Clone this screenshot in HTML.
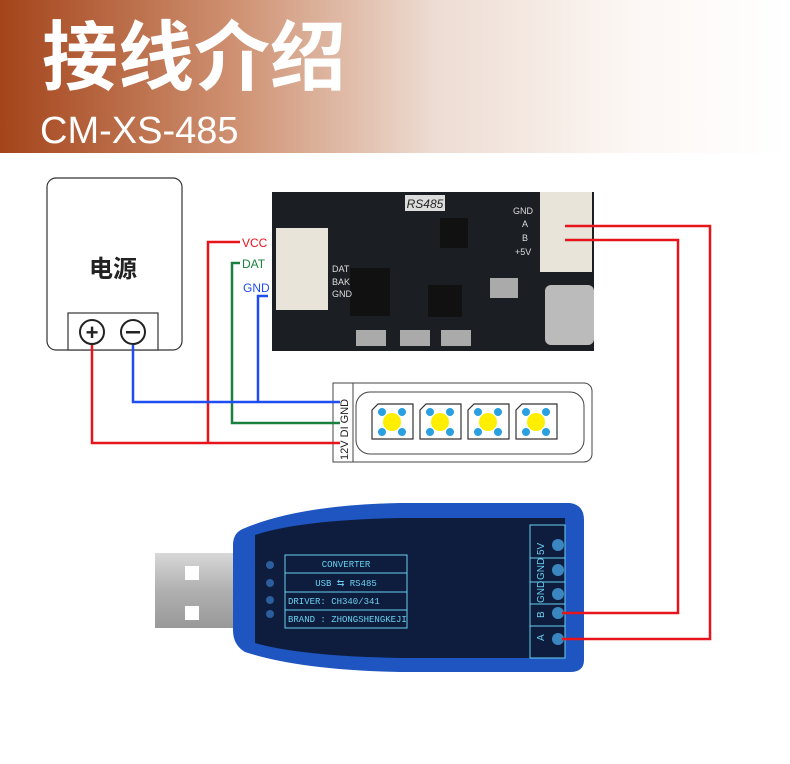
<!DOCTYPE html>
<html><head><meta charset="utf-8"><style>
body{margin:0;width:790px;height:759px;background:#fff;overflow:hidden}
</style></head><body>
<svg width="790" height="759" viewBox="0 0 790 759" xmlns="http://www.w3.org/2000/svg" font-family="Liberation Sans, Noto Sans CJK SC, sans-serif">
<defs>
<linearGradient id="hg" x1="0" x2="1">
<stop offset="0" stop-color="#a4441a"/><stop offset="0.3" stop-color="#cf9273"/><stop offset="0.55" stop-color="#eddcd2"/><stop offset="0.8" stop-color="#fcf7f4"/><stop offset="1" stop-color="#fff"/>
</linearGradient>
<linearGradient id="usbg" x1="0" y1="0" x2="0" y2="1">
<stop offset="0" stop-color="#d8d8d8"/><stop offset="0.5" stop-color="#b0b0b0"/><stop offset="1" stop-color="#999"/>
</linearGradient>
</defs>
<rect x="0" y="0" width="790" height="153" fill="url(#hg)"/>
<text x="42" y="84" font-size="76" font-weight="bold" fill="#fff" font-family="Noto Sans CJK SC, sans-serif">接线介绍</text>
<text x="40" y="143" font-size="38" fill="#fff">CM-XS-485</text>

<!-- power box -->
<rect x="47" y="178" width="135" height="172" rx="9" fill="#fff" stroke="#333" stroke-width="1.2"/>
<text x="113" y="277" font-size="24" font-weight="bold" text-anchor="middle" fill="#222" font-family="Noto Sans CJK SC, sans-serif">电源</text>
<rect x="68" y="313" width="90" height="37" fill="#fff" stroke="#333" stroke-width="1.2"/>
<circle cx="92" cy="332" r="12" fill="#fff" stroke="#222" stroke-width="2"/>
<text x="92" y="340" font-size="22" font-weight="bold" text-anchor="middle" fill="#222">+</text>
<circle cx="133" cy="332" r="12" fill="#fff" stroke="#222" stroke-width="2"/>
<rect x="126" y="331" width="14" height="2.5" fill="#222"/>

<!-- PCB -->
<rect x="272" y="192" width="322" height="159" fill="#1b1e23"/>
<rect x="405" y="195" width="40" height="16" fill="#ddd"/><text x="425" y="208" font-size="12" font-style="italic" text-anchor="middle" fill="#222">RS485</text>
<rect x="276" y="228" width="52" height="82" fill="#e9e4da"/>
<rect x="540" y="192" width="52" height="80" fill="#e9e4da"/>
<rect x="545" y="285" width="49" height="60" rx="6" fill="#bbb"/>
<rect x="350" y="268" width="40" height="48" fill="#111"/>
<rect x="428" y="285" width="34" height="32" fill="#111"/>
<rect x="440" y="218" width="28" height="30" fill="#111"/>
<rect x="356" y="330" width="30" height="16" fill="#aaa"/><rect x="400" y="330" width="30" height="16" fill="#aaa"/><rect x="441" y="330" width="30" height="16" fill="#aaa"/>
<rect x="490" y="278" width="28" height="20" fill="#aaa"/>
<text x="513" y="214" font-size="9" fill="#ddd">GND</text><text x="522" y="227" font-size="9" fill="#ddd">A</text><text x="522" y="241" font-size="9" fill="#ddd">B</text><text x="515" y="255" font-size="9" fill="#ddd">+5V</text>
<text x="332" y="272" font-size="9" fill="#ddd">DAT</text><text x="332" y="285" font-size="9" fill="#ddd">BAK</text><text x="332" y="297" font-size="9" fill="#ddd">GND</text>

<!-- LED strip -->
<rect x="333" y="383" width="259" height="79" rx="8" fill="#fff" stroke="#444"/>
<rect x="356" y="392" width="228" height="62" rx="14" fill="#fff" stroke="#444"/>
<rect x="333" y="383" width="20" height="79" fill="#fff" stroke="#444"/>
<text transform="translate(348,460) rotate(-90)" font-size="11" fill="#222">12V  DI  GND</text>
<g fill="#fff" stroke="#333" stroke-width="1.2">
<path d="M372 410 l6 -6 h35 v35 h-41z"/><path d="M420 410 l6 -6 h35 v35 h-41z"/><path d="M468 410 l6 -6 h35 v35 h-41z"/><path d="M516 410 l6 -6 h35 v35 h-41z"/>
</g>
<g>
<g transform="translate(392,422)"><circle r="9" fill="#ffee00"/><circle cx="-10" cy="-10" r="4" fill="#2aa0e0"/><circle cx="10" cy="-10" r="4" fill="#2aa0e0"/><circle cx="-10" cy="10" r="4" fill="#2aa0e0"/><circle cx="10" cy="10" r="4" fill="#2aa0e0"/></g>
<g transform="translate(440,422)"><circle r="9" fill="#ffee00"/><circle cx="-10" cy="-10" r="4" fill="#2aa0e0"/><circle cx="10" cy="-10" r="4" fill="#2aa0e0"/><circle cx="-10" cy="10" r="4" fill="#2aa0e0"/><circle cx="10" cy="10" r="4" fill="#2aa0e0"/></g>
<g transform="translate(488,422)"><circle r="9" fill="#ffee00"/><circle cx="-10" cy="-10" r="4" fill="#2aa0e0"/><circle cx="10" cy="-10" r="4" fill="#2aa0e0"/><circle cx="-10" cy="10" r="4" fill="#2aa0e0"/><circle cx="10" cy="10" r="4" fill="#2aa0e0"/></g>
<g transform="translate(536,422)"><circle r="9" fill="#ffee00"/><circle cx="-10" cy="-10" r="4" fill="#2aa0e0"/><circle cx="10" cy="-10" r="4" fill="#2aa0e0"/><circle cx="-10" cy="10" r="4" fill="#2aa0e0"/><circle cx="10" cy="10" r="4" fill="#2aa0e0"/></g>
</g>

<!-- wires left -->
<g fill="none" stroke-width="2.5">
<polyline points="92,345 92,443 340,443" stroke="#e8141c"/>
<polyline points="240,242 208,242 208,443" stroke="#e8141c"/>
<polyline points="240,263 232,263 232,423 340,423" stroke="#1a8040"/>
<polyline points="268,296 258,296 258,402" stroke="#1f4ef0"/>
<polyline points="133,345 133,402 340,402" stroke="#1f4ef0"/>
</g>
<text x="242" y="247" font-size="12" fill="#e8141c">VCC</text>
<text x="242" y="268" font-size="12" fill="#1a8040">DAT</text>
<text x="243" y="292" font-size="12" fill="#1f4ef0">GND</text>

<!-- USB dongle -->
<rect x="155" y="553" width="90" height="75" fill="url(#usbg)"/>
<rect x="185" y="566" width="14" height="14" fill="#fff"/><rect x="185" y="606" width="14" height="14" fill="#fff"/>
<path d="M245 528 Q300 505 400 503 L570 503 Q584 505 584 520 L584 660 Q584 672 570 672 L400 672 Q300 670 245 652 Q233 645 233 630 L233 545 Q233 532 245 528z" fill="#1f55c0"/>
<path d="M255 535 Q300 520 400 518 L565 518 L565 658 L400 658 Q300 656 255 643z" fill="#0e1d3e"/>
<g stroke="#6ad0f0" stroke-width="1" fill="none">
<rect x="285" y="555" width="122" height="73"/>
<line x1="285" y1="573" x2="407" y2="573"/><line x1="285" y1="592" x2="407" y2="592"/><line x1="285" y1="610" x2="407" y2="610"/>
<rect x="530" y="525" width="35" height="133"/>
<line x1="530" y1="558" x2="565" y2="558"/><line x1="530" y1="582" x2="565" y2="582"/><line x1="530" y1="604" x2="565" y2="604"/><line x1="530" y1="626" x2="565" y2="626"/>
</g>
<g font-size="9" fill="#6ad0f0" font-family="Liberation Mono, monospace">
<text x="346" y="567" text-anchor="middle">CONVERTER</text>
<text x="346" y="586" text-anchor="middle">USB ⇆ RS485</text>
<text x="288" y="604">DRIVER:  CH340/341</text>
<text x="288" y="622">BRAND : ZHONGSHENGKEJI</text>
</g>
<g font-size="10" fill="#6ad0f0">
<text transform="translate(544,555) rotate(-90)">5V</text>
<text transform="translate(544,580) rotate(-90)">GND</text>
<text transform="translate(544,603) rotate(-90)">GND</text>
<text transform="translate(544,618) rotate(-90)">B</text>
<text transform="translate(544,641) rotate(-90)">A</text>
</g>
<g fill="#3a86c0"><circle cx="558" cy="545" r="6"/><circle cx="558" cy="570" r="6"/><circle cx="558" cy="594" r="6"/><circle cx="558" cy="613" r="6"/><circle cx="558" cy="639" r="6"/></g>
<g fill="#2c5d9c"><circle cx="270" cy="565" r="4"/><circle cx="270" cy="583" r="4"/><circle cx="270" cy="600" r="4"/><circle cx="270" cy="614" r="4"/></g>

<!-- wires right -->
<g fill="none" stroke="#e8141c" stroke-width="2.5">
<polyline points="565,226 710,226 710,639 562,639"/>
<polyline points="565,240 678,240 678,613 562,613"/>
</g>
</svg>
</body></html>
